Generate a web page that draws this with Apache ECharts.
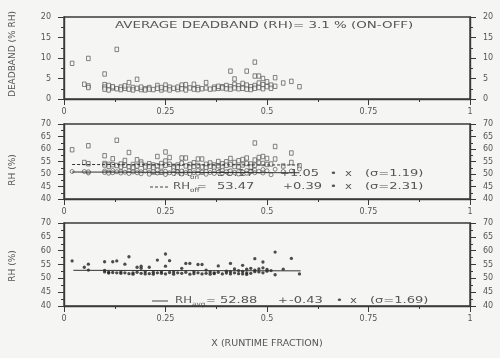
<!DOCTYPE html>
<html><head><meta charset="utf-8">
<script src="https://cdn.jsdelivr.net/npm/echarts@6/dist/echarts.min.js"></script>
<style>html,body{margin:0;padding:0;background:#f5f5f3}#c{width:500px;height:358px}</style>
</head><body><div id="c"></div>
<script>
// ---- data ----
const xTickLabels = ["0", "0.25", "0.5", "0.75", "1"];
const deadbandPoints = [
 [0.02,8.7],[0.05,3.6],[0.06,9.9],[0.06,3.2],[0.06,2.8],
 [0.10,6.1],[0.10,3.5],[0.10,2.9],[0.10,2.4],[0.11,2.2],[0.11,3.3],[0.12,2.7],[0.12,3.0],
 [0.13,12.1],[0.13,2.5],[0.14,2.9],[0.14,2.3],[0.15,2.6],[0.15,3.2],[0.16,4.0],[0.16,2.4],
 [0.17,2.8],[0.17,2.2],[0.18,4.8],[0.18,2.6],[0.19,2.3],[0.19,2.9],[0.20,2.5],[0.20,2.2],
 [0.21,2.8],[0.21,2.4],[0.22,2.3],[0.23,3.3],[0.23,2.6],[0.24,2.2],[0.24,2.8],[0.25,3.4],[0.25,2.5],
 [0.26,2.9],[0.26,2.2],[0.27,2.6],[0.28,2.3],[0.28,2.9],[0.29,3.4],[0.29,2.5],[0.30,3.5],[0.30,2.2],
 [0.31,2.7],[0.32,3.6],[0.32,2.4],[0.33,2.8],[0.33,2.3],[0.34,2.5],[0.35,4.0],[0.35,2.7],[0.36,2.4],
 [0.37,2.9],[0.37,2.5],[0.38,2.6],[0.38,3.1],[0.39,3.0],[0.39,2.7],[0.40,3.3],[0.40,2.5],
 [0.41,6.8],[0.41,3.0],[0.41,2.4],[0.42,4.9],[0.42,3.6],[0.42,2.7],[0.43,3.2],[0.43,2.5],
 [0.44,3.8],[0.44,2.6],[0.45,6.8],[0.45,3.4],[0.45,2.4],[0.46,3.0],[0.46,2.3],
 [0.47,9.0],[0.47,5.6],[0.47,3.3],[0.47,2.6],[0.48,5.6],[0.48,3.9],[0.48,2.8],
 [0.49,5.0],[0.49,3.5],[0.49,2.5],[0.50,4.2],[0.50,3.0],[0.51,3.4],[0.51,2.6],
 [0.52,5.2],[0.52,3.1],[0.54,3.9],[0.56,4.3],[0.58,3.0]
];
const rhOffPoints = [
 [0.02,59.7],[0.05,54.6],[0.06,61.3],[0.06,54.1],[0.10,57.3],[0.10,54.2],[0.10,53.6],[0.11,53.9],[0.11,53.1],
 [0.12,56.1],[0.12,53.7],[0.13,63.5],[0.13,53.4],[0.14,54.0],[0.14,52.8],[0.15,55.4],[0.15,53.5],
 [0.16,58.6],[0.16,52.9],[0.17,53.8],[0.17,52.6],[0.18,55.7],[0.18,53.2],[0.19,54.8],[0.19,53.9],
 [0.20,53.4],[0.20,52.7],[0.21,54.1],[0.21,53.0],[0.22,53.6],[0.22,52.5],[0.23,57.0],[0.23,53.3],
 [0.24,54.2],[0.24,52.8],[0.25,58.8],[0.25,55.2],[0.25,53.5],[0.26,56.6],[0.26,53.9],[0.27,53.1],[0.27,52.4],
 [0.28,53.6],[0.28,52.7],[0.29,56.4],[0.29,54.3],[0.30,56.4],[0.30,53.2],[0.31,53.8],[0.31,52.6],
 [0.32,54.5],[0.32,53.0],[0.33,56.0],[0.33,53.4],[0.34,56.0],[0.34,52.8],[0.35,53.9],[0.35,52.5],
 [0.36,54.4],[0.36,53.1],[0.37,53.6],[0.37,52.6],[0.38,55.0],[0.38,53.3],[0.39,54.1],[0.39,52.7],
 [0.40,54.9],[0.40,53.5],[0.41,56.2],[0.41,53.8],[0.42,54.6],[0.42,53.0],[0.43,55.3],[0.43,52.9],
 [0.44,55.8],[0.44,53.6],[0.45,56.4],[0.45,54.2],[0.46,54.0],[0.46,52.8],[0.47,62.4],[0.47,55.6],[0.47,53.5],
 [0.48,56.6],[0.48,54.4],[0.49,57.0],[0.49,54.2],[0.50,56.2],[0.50,53.8],[0.51,54.0],[0.52,61.0],[0.52,56.0],
 [0.54,53.2],[0.56,58.4],[0.56,54.6],[0.58,53.3]
];
const rhOnPoints = [
 [0.02,51.0],[0.05,51.0],[0.06,50.4],[0.06,50.9],[0.10,51.2],[0.10,50.6],[0.11,50.8],[0.11,50.3],
 [0.12,51.4],[0.12,50.5],[0.13,50.9],[0.14,51.1],[0.14,50.4],[0.15,50.7],[0.16,51.3],[0.16,50.2],
 [0.17,50.8],[0.18,51.5],[0.18,50.5],[0.19,50.9],[0.19,50.1],[0.20,51.2],[0.21,50.6],[0.21,49.9],
 [0.22,51.0],[0.23,50.4],[0.23,51.6],[0.24,50.7],[0.25,51.1],[0.25,49.8],[0.26,50.5],[0.27,51.3],[0.27,50.2],
 [0.28,50.8],[0.29,50.0],[0.29,51.2],[0.30,50.6],[0.31,51.0],[0.31,50.1],[0.32,50.5],[0.33,51.4],[0.33,50.3],
 [0.34,50.8],[0.35,51.1],[0.35,49.9],[0.36,50.6],[0.37,51.2],[0.37,50.2],[0.38,50.7],[0.39,51.5],[0.39,50.3],
 [0.40,50.9],[0.41,50.2],[0.41,51.3],[0.42,50.6],[0.43,51.0],[0.43,50.0],[0.44,50.8],[0.45,51.4],[0.45,50.3],
 [0.46,50.9],[0.47,51.6],[0.47,50.5],[0.48,51.1],[0.49,51.8],[0.49,50.4],[0.50,51.3],[0.51,49.7],
 [0.52,51.9],[0.54,51.0],[0.56,51.2],[0.58,52.0]
];
const rhAvgPoints = [
 [0.02,56.3],[0.05,54.0],[0.06,55.1],[0.06,53.0],[0.10,56.0],[0.10,52.9],[0.10,52.3],[0.11,52.2],[0.11,51.9],
 [0.12,56.0],[0.12,52.1],[0.13,56.3],[0.13,52.0],[0.14,52.3],[0.14,51.8],[0.15,55.1],[0.15,52.0],
 [0.16,57.8],[0.16,51.7],[0.17,52.0],[0.17,51.5],[0.18,54.0],[0.18,52.2],[0.19,54.4],[0.19,53.6],[0.19,51.8],
 [0.20,52.4],[0.20,51.6],[0.21,54.0],[0.21,51.7],[0.22,52.2],[0.22,51.5],[0.23,56.6],[0.23,52.0],
 [0.24,51.8],[0.24,52.4],[0.25,58.8],[0.25,54.4],[0.25,51.6],[0.26,56.4],[0.26,52.1],[0.27,51.5],[0.27,52.3],
 [0.28,52.0],[0.29,53.6],[0.29,51.8],[0.30,55.4],[0.30,52.2],[0.31,55.4],[0.31,51.5],[0.32,52.4],[0.32,51.7],
 [0.33,55.0],[0.33,52.0],[0.34,55.0],[0.34,51.6],[0.35,53.0],[0.35,51.8],[0.36,52.3],[0.36,51.5],
 [0.37,52.0],[0.37,51.7],[0.38,54.5],[0.38,52.2],[0.39,51.6],[0.40,52.6],[0.40,51.9],
 [0.41,55.4],[0.41,52.4],[0.41,51.6],[0.42,53.4],[0.42,52.0],[0.43,52.8],[0.43,51.7],
 [0.44,54.7],[0.44,52.5],[0.44,51.6],[0.45,53.3],[0.45,52.0],[0.45,51.4],[0.46,53.6],[0.46,51.8],
 [0.47,57.1],[0.47,53.0],[0.47,52.4],[0.48,53.4],[0.48,52.3],[0.49,55.9],[0.49,53.8],[0.49,52.0],
 [0.50,53.2],[0.50,52.6],[0.51,52.8],[0.52,59.5],[0.52,51.3],[0.54,53.3],[0.56,57.2],[0.58,51.6]
];
const onFit  = [[0.02,50.8],[0.58,50.5]];
const offFit = [[0.02,53.8],[0.58,53.6]];
const avgFit = [[0.023,52.9],[0.583,52.7]];
const titleText = "AVERAGE DEADBAND (RH)= 3.1 % (ON-OFF)";
const yNames = ["DEADBAND (% RH)", "RH (%)", "RH (%)"];
const xName = "X (RUNTIME FRACTION)";
const legendOn  = {sub:"on",  a:"50.17", b:"1.05",  s:"(σ=1.19)"};
const legendOff = {sub:"off", a:"53.47", b:"0.39",  s:"(σ=2.31)"};
const legendAvg = {sub:"avg", a:"52.88", b:"-0.43", s:"(σ=1.69)"};

// ---- chart ----
const INK = '#3a3a3a', TXT = '#555', FF = 'DejaVu Sans', BG = '#f5f5f3';
const chart = echarts.init(document.getElementById('c'), null, {renderer:'canvas'});
const grids = [
  {left:64, right:30, top:17, height:82},
  {left:64, right:30, top:124, height:75},
  {left:64, right:30, top:223, height:83}
].map(g => Object.assign(g, {show:true, borderColor:INK, borderWidth:1.4, backgroundColor:'transparent'}));

const xAxes = grids.map((g,i) => ({
  gridIndex:i, type:'value', min:0, max:1, interval:0.25,
  axisLine:{lineStyle:{color:INK, width:1.4}},
  axisTick:{length:6, lineStyle:{color:INK}},
  minorTick:{show:true, splitNumber:2, length:3, lineStyle:{color:INK}},
  splitLine:{show:false},
  axisLabel:{fontSize:8, color:TXT, fontFamily:FF, margin:9,
    formatter:(v)=>xTickLabels[Math.round(v*4)]},
  name: i===2 ? xName : '', nameLocation:'middle', nameGap:33,
  nameTextStyle:{fontSize:9.5, color:TXT, fontFamily:FF}
}));
const ranges = [[0,20],[40,70],[40,70]];
const yAxes = [];
ranges.forEach((r,i) => {
  ['left','right'].forEach(pos => yAxes.push({
    gridIndex:i, type:'value', min:r[0], max:r[1], interval:5, position:pos,
    axisLine:{show:true, lineStyle:{color:INK, width:1.4}},
    axisTick:{show:true, length:6, lineStyle:{color:INK}},
    minorTick:{show:true, splitNumber:2, length:3, lineStyle:{color:INK}},
    splitLine:{show:false},
    axisLabel:{fontSize:8, color:TXT, fontFamily:FF, margin:13}
  }));
});

const hollow = (sym, size) => ({symbol:sym, symbolSize:size,
  itemStyle:{color:BG, borderColor:'#444', borderWidth:0.8}});
const series = [
  Object.assign({type:'scatter', xAxisIndex:0, yAxisIndex:0, data:deadbandPoints}, hollow('rect',[3.6,4.4])),
  Object.assign({type:'scatter', xAxisIndex:1, yAxisIndex:2, data:rhOffPoints}, hollow('rect',[3.6,4.4])),
  Object.assign({type:'scatter', xAxisIndex:1, yAxisIndex:2, data:rhOnPoints}, hollow('circle',4)),
  {type:'line', xAxisIndex:1, yAxisIndex:2, data:onFit, symbol:'none', lineStyle:{color:'#333', width:1}},
  {type:'line', xAxisIndex:1, yAxisIndex:2, data:offFit, symbol:'none', lineStyle:{color:'#333', width:1, type:[3,2]}},
  {type:'scatter', xAxisIndex:2, yAxisIndex:4, data:rhAvgPoints, symbol:'circle', symbolSize:3.3,
    itemStyle:{color:'#222'}},
  {type:'line', xAxisIndex:2, yAxisIndex:4, data:avgFit, symbol:'none', lineStyle:{color:'#333', width:1}}
];

function txt(x, y, s, size, sx, extra){
  return Object.assign({type:'text', x:x, y:y, scaleX:sx||1, z:-1,
    style:{text:s, fontSize:size, fontFamily:FF, fill:TXT,
      textAlign:'left', align:'left', textVerticalAlign:'middle', verticalAlign:'middle'}}, extra||{});
}
function vtxt(x, y, s){
  return {type:'text', x:x, y:y, rotation:Math.PI/2,
    style:{text:s, fontSize:9, fontFamily:FF, fill:TXT, textAlign:'center', align:'center',
      textVerticalAlign:'middle', verticalAlign:'middle'}};
}
function legend(y, x0, lg, dash, pos){
  const els = [];
  els.push({type:'line', z:-1, shape:{x1:x0, y1:y, x2:168, y2:y},
    style:{stroke:'#444', lineWidth:1, lineDash: dash ? [3,2] : null}});
  els.push(txt(pos[0], y, 'RH', 9, 1.3));
  els.push(txt(pos[0]+17, y+3, lg.sub, 6, 1.2));
  els.push(txt(pos[1], y, '=', 9, 1.3));
  els.push(txt(pos[2], y, lg.a, 9, 1.45));
  els.push(txt(pos[3], y, '+', 9, 1.3));
  els.push(txt(pos[4], y, lg.b, 9, 1.45));
  els.push(txt(pos[5], y, '•', 9, 1.3));
  els.push(txt(pos[6], y, 'x', 9, 1.3));
  els.push(txt(pos[7], y, lg.s, 9, 1.45));
  return els;
}
const graphics = [].concat(
  [txt(115, 26, titleText, 9, 1.49)],
  [vtxt(13, 54, yNames[0]), vtxt(13, 170, yNames[1]), vtxt(13, 266, yNames[2])],
  legend(174, 150, legendOn, false, [173,197,217,280,290,330,345,365]),
  legend(187, 150, legendOff, true, [173,197,217,283,293,330,345,365]),
  legend(301, 152, legendAvg, false, [175,206,220,278,289,336,350,370])
);

chart.setOption({
  backgroundColor:BG,
  animation:false,
  grid:grids, xAxis:xAxes, yAxis:yAxes, series:series,
  graphic:{elements:graphics}
});
</script></body></html>
